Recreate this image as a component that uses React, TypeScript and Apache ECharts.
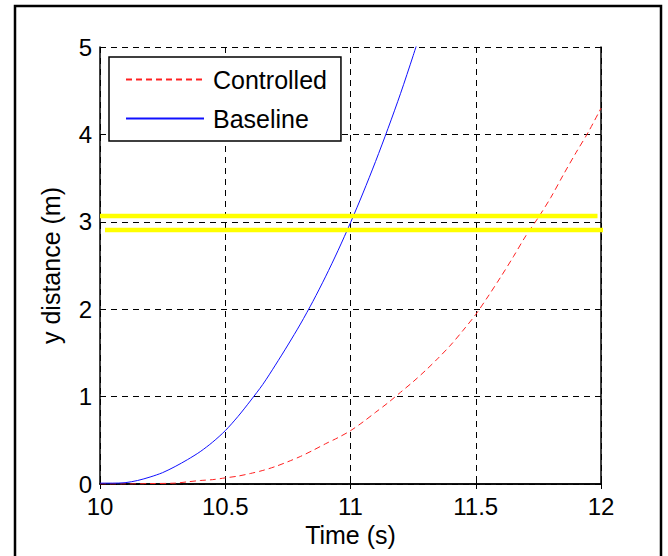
import React, { useEffect, useRef } from "react";
import * as echarts from "echarts";

const xTicks = [10, 10.5, 11, 11.5, 12];
const yTicks = [0, 1, 2, 3, 4, 5];

const baselineT = [10.0, 10.05, 10.1, 10.15, 10.2, 10.25, 10.3, 10.35, 10.4, 10.45, 10.5, 10.55, 10.6, 10.65, 10.7, 10.75, 10.8, 10.85, 10.9, 10.95, 11.0, 11.05, 11.1, 11.15, 11.2, 11.25, 11.3];
const baselineY = [0.01, 0.01, 0.015, 0.04, 0.08, 0.13, 0.2, 0.28, 0.37, 0.48, 0.61, 0.77, 0.95, 1.14, 1.36, 1.59, 1.83, 2.09, 2.37, 2.67, 2.99, 3.33, 3.69, 4.07, 4.47, 4.9, 5.35];

const controlledT = [10.0, 10.1, 10.2, 10.3, 10.35, 10.4, 10.45, 10.5, 10.55, 10.6, 10.65, 10.7, 10.75, 10.8, 10.85, 10.9, 10.95, 11.0, 11.05, 11.1, 11.15, 11.2, 11.25, 11.3, 11.35, 11.4, 11.45, 11.5, 11.55, 11.6, 11.65, 11.7, 11.75, 11.8, 11.85, 11.9, 11.95, 12.0];
const controlledY = [0, 0, 0.005, 0.01, 0.025, 0.04, 0.05, 0.07, 0.09, 0.12, 0.155, 0.2, 0.255, 0.315, 0.385, 0.46, 0.53, 0.61, 0.71, 0.82, 0.93, 1.05, 1.17, 1.3, 1.44, 1.59, 1.76, 1.94, 2.15, 2.37, 2.6, 2.84, 3.05, 3.28, 3.54, 3.79, 4.03, 4.3];

const upperBandX = [10.0, 11.986];
const upperBandY = [3.066, 3.066];
const lowerBandX = [10.02, 12.008];
const lowerBandY = [2.906, 2.906];

const FONT = "'Liberation Sans', Arial, sans-serif";

function pairs(xs: number[], ys: number[]) {
  return xs.map((x, i) => [x, ys[i]]);
}

export default function App() {
  const ref = useRef<HTMLDivElement>(null);
  useEffect(() => {
    if (!ref.current) return;
    const chart = echarts.init(ref.current, undefined, { renderer: "svg" });
    const axisLine = { show: true, lineStyle: { color: "#000", width: 1.5 } };
    const tick = { show: true, inside: true, length: 5, lineStyle: { color: "#000", width: 1 } };
    const xMin = xTicks[0];
    const xMax = xTicks[xTicks.length - 1];
    const xInt = xTicks[1] - xTicks[0];
    const yMin = yTicks[0];
    const yMax = yTicks[yTicks.length - 1];
    const yInt = yTicks[1] - yTicks[0];
    chart.setOption({
      animation: false,
      backgroundColor: "#fff",
      textStyle: { fontFamily: FONT },
      grid: { left: 100, top: 47, right: 67, bottom: 72, containLabel: false },
      legend: {
        data: ["Controlled", "Baseline"],
        orient: "vertical",
        left: 109,
        top: 57,
        backgroundColor: "#fff",
        borderColor: "#000",
        borderWidth: 1.5,
        borderRadius: 0,
        padding: [10, 14, 10, 16],
        itemGap: 14,
        itemWidth: 78,
        itemHeight: 24,
        selectedMode: false,
        itemStyle: { opacity: 0, borderWidth: 0 },
        textStyle: { fontSize: 25, color: "#000", fontFamily: FONT, padding: [0, 0, 0, 4] },
      },
      xAxis: [
        {
          type: "value",
          position: "bottom",
          min: xMin,
          max: xMax,
          interval: xInt,
          axisLine,
          axisTick: tick,
          axisLabel: {
            fontSize: 24,
            lineHeight: 18,
            color: "#000",
            margin: 13,
            fontFamily: FONT,
            showMinLabel: true,
            showMaxLabel: true,
            formatter: (v: number) => String(v),
          },
          splitLine: { show: true, lineStyle: { color: "#000", width: 1, type: [6, 5] } },
          name: "Time (s)",
          nameLocation: "middle",
          nameGap: 35,
          nameTextStyle: { fontSize: 25, color: "#000", fontFamily: FONT, verticalAlign: "top" },
        },
        {
          type: "value",
          position: "top",
          min: xMin,
          max: xMax,
          interval: xInt,
          axisLine,
          axisTick: tick,
          axisLabel: { show: false },
          splitLine: { show: false },
        },
      ],
      yAxis: [
        {
          type: "value",
          position: "left",
          min: yMin,
          max: yMax,
          interval: yInt,
          axisLine,
          axisTick: tick,
          axisLabel: { fontSize: 24, lineHeight: 18, color: "#000", margin: 8, fontFamily: FONT },
          splitLine: { show: true, lineStyle: { color: "#000", width: 1, type: [6, 5] } },
          name: "y distance (m)",
          nameLocation: "middle",
          nameRotate: 90,
          nameGap: 37,
          nameTextStyle: { fontSize: 25, color: "#000", fontFamily: FONT },
        },
        {
          type: "value",
          position: "right",
          min: yMin,
          max: yMax,
          interval: yInt,
          axisLine,
          axisTick: tick,
          axisLabel: { show: false },
          splitLine: { show: false },
        },
      ],
      series: [
        {
          name: "Controlled",
          type: "line",
          data: pairs(controlledT, controlledY),
          symbol: "none",
          showSymbol: false,
          smooth: 0.3,
          lineStyle: { color: "#ff2020", width: 1, type: [6, 4] },
          itemStyle: { color: "#ff2020" },
          z: 3,
        },
        {
          name: "Baseline",
          type: "line",
          data: pairs(baselineT, baselineY),
          symbol: "none",
          showSymbol: false,
          smooth: 0.3,
          lineStyle: { color: "#1010ff", width: 1 },
          itemStyle: { color: "#1010ff" },
          z: 3,
        },
        {
          name: "Upper band",
          type: "line",
          data: pairs(upperBandX, upperBandY),
          symbol: "none",
          clip: false,
          lineStyle: { color: "#ffff00", width: 4.5 },
          itemStyle: { color: "#ffff00" },
          z: 4,
        },
        {
          name: "Lower band",
          type: "line",
          data: pairs(lowerBandX, lowerBandY),
          symbol: "none",
          clip: false,
          lineStyle: { color: "#ffff00", width: 4.5 },
          itemStyle: { color: "#ffff00" },
          z: 4,
        },
      ],
      graphic: [
        {
          type: "rect",
          silent: true,
          shape: { x: 15, y: 6, width: 646, height: 570 },
          style: { fill: "none", stroke: "#000", lineWidth: 2.5 },
          z: 10,
        },
      ],
    });
    return () => chart.dispose();
  }, []);
  return (
    <div
      ref={ref}
      style={{ position: "fixed", left: 0, top: 0, width: 668, height: 556 }}
    />
  );
}
